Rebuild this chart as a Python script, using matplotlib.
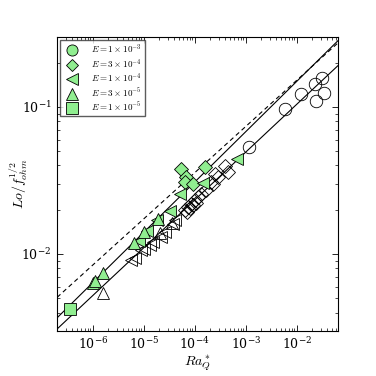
import numpy as np
import matplotlib

matplotlib.use("Agg")
import matplotlib.pyplot as plt
from matplotlib.lines import Line2D

plt.rcParams.update(
    {
        "mathtext.fontset": "cm",
        "font.family": "serif",
        "font.serif": ["DejaVu Serif"],
        "font.size": 9,
        "xtick.direction": "in",
        "ytick.direction": "in",
        "xtick.top": True,
        "ytick.right": True,
    }
)

GREEN = "#90ee90"

# E = 1e-3 (open circles)
circ_x = [1.16e-3, 5.8e-3, 1.24e-2, 2.25e-2, 3.19e-2, 3.38e-2, 2.43e-2]
circ_y = [0.0531, 0.0964, 0.122, 0.144, 0.158, 0.125, 0.109]

# E = 3e-4 (diamonds)
dia_fill_x = [5.49e-5, 6.88e-5, 6.37e-5, 9.26e-5, 1.57e-4]
dia_fill_y = [0.0379, 0.0333, 0.0308, 0.0301, 0.0389]
dia_open_x = [2.47e-4, 3.87e-4, 4.5e-4, 2.12e-4, 2.86e-4, 1.7e-4, 2.29e-4, 1.35e-4,
              1.16e-4, 1.0e-4, 8.6e-5, 7.4e-5, 6.37e-5, 8.0e-5, 9.1e-5, 7.0e-5, 1.05e-4]
dia_open_y = [0.0351, 0.0399, 0.036, 0.0308, 0.0333, 0.0271, 0.0301, 0.0257,
              0.0244, 0.0232, 0.022, 0.0209, 0.0198, 0.0205, 0.0214, 0.0192, 0.0221]

# E = 1e-4 (left triangles)
tl_fill_x = [7.98e-6, 1.15e-5, 1.8e-5, 3.24e-5, 5.08e-5, 1.44e-4, 6.66e-4]
tl_fill_y = [0.01224, 0.0143, 0.01698, 0.01953, 0.02543, 0.0302, 0.0445]
tl_open_x = [5.74e-6, 6.66e-6, 9.0e-6, 1.0e-5, 1.31e-5, 1.52e-5, 2.22e-5, 2.58e-5, 3.76e-5, 4.05e-5]
tl_open_y = [9.1e-3, 9.4e-3, 0.0106, 0.0108, 0.0115, 0.0121, 0.0131, 0.0142, 0.0161, 0.017]

# E = 3e-5 (up triangles)
tu_fill_x = [1.0e-6, 1.09e-6, 1.59e-6, 6.4e-6, 1.0e-5, 1.88e-5]
tu_fill_y = [6.37e-3, 6.57e-3, 7.4e-3, 0.0119, 0.0141, 0.0172]
tu_open_x = [1.59e-6, 2.06e-5, 3.54e-5]
tu_open_y = [5.4e-3, 0.0139, 0.0162]

# E = 1e-5 (squares)
sq_fill_x = [3.5e-7]
sq_fill_y = [4.2e-3]

# scaling fits Lo/f^1/2 = c * Ra^b
fit_c = [0.72, 0.644, 0.465]
fit_b = [0.342, 0.314, 0.325]
fit_ls = ["-", "--", "-"]

XLIM = (2e-7, 6.5e-2)
YLIM = (3e-3, 3e-1)

fig = plt.figure(figsize=(3.76, 3.76), dpi=100)
ax = fig.add_axes([0.152, 0.12, 0.747, 0.782])
ax.set_xscale("log")
ax.set_yscale("log")

xx = np.logspace(np.log10(XLIM[0]), np.log10(XLIM[1]), 50)
for c, b, ls in zip(fit_c, fit_b, fit_ls):
    if ls == "--":
        ax.plot(xx, c * xx ** b, color="k", lw=0.8, dashes=(4, 3), zorder=1)
    else:
        ax.plot(xx, c * xx ** b, color="k", lw=0.8, zorder=1)

kw = dict(ls="none", mec="k", mew=0.6, ms=9, zorder=3)
ax.plot(circ_x, circ_y, "o", mfc="none", **kw)
ax.plot(dia_open_x, dia_open_y, "D", mfc="none", **dict(kw, ms=7.5))
ax.plot(tl_open_x, tl_open_y, "<", mfc="none", **kw)
ax.plot(tu_open_x, tu_open_y, "^", mfc="none", **kw)
ax.plot(dia_fill_x, dia_fill_y, "D", mfc=GREEN, **dict(kw, ms=7.5))
ax.plot(tl_fill_x, tl_fill_y, "<", mfc=GREEN, **kw)
ax.plot(tu_fill_x, tu_fill_y, "^", mfc=GREEN, **kw)
ax.plot(sq_fill_x, sq_fill_y, "s", mfc=GREEN, **dict(kw, ms=8))

ax.set_xlim(XLIM)
ax.set_ylim(YLIM)
ax.set_xticks([1e-6, 1e-5, 1e-4, 1e-3, 1e-2])
ax.set_yticks([1e-2, 1e-1])
ax.tick_params(which="major", length=4, width=0.6, labelsize=9, pad=4)
ax.tick_params(which="minor", length=2, width=0.5)
for s in ax.spines.values():
    s.set_linewidth(0.8)

ax.set_xlabel(r"$Ra_Q^*$", fontsize=10, labelpad=1)
ax.set_ylabel(r"$Lo/f_{ohm}^{1/2}$", fontsize=10)
ax.yaxis.set_label_coords(-0.096, 0.5)

leg_labels = [r"$E=1\times10^{-3}$", r"$E=3\times10^{-4}$", r"$E=1\times10^{-4}$",
              r"$E=3\times10^{-5}$", r"$E=1\times10^{-5}$"]
leg_markers = ["o", "D", "<", "^", "s"]
handles = [Line2D([], [], ls="none", marker=m, mfc=GREEN, mec="k", mew=0.6,
                  ms=(6.5 if m == "D" else 8)) for m in leg_markers]
leg = ax.legend(handles, leg_labels, loc="upper left", fontsize=6.5, frameon=True,
                fancybox=False, edgecolor="#333333", borderaxespad=0.35, handletextpad=1.1,
                labelspacing=0.15, borderpad=0.3, handlelength=2.0)
leg.get_frame().set_linewidth(1.0)

fig.savefig("out.png", dpi=100)
